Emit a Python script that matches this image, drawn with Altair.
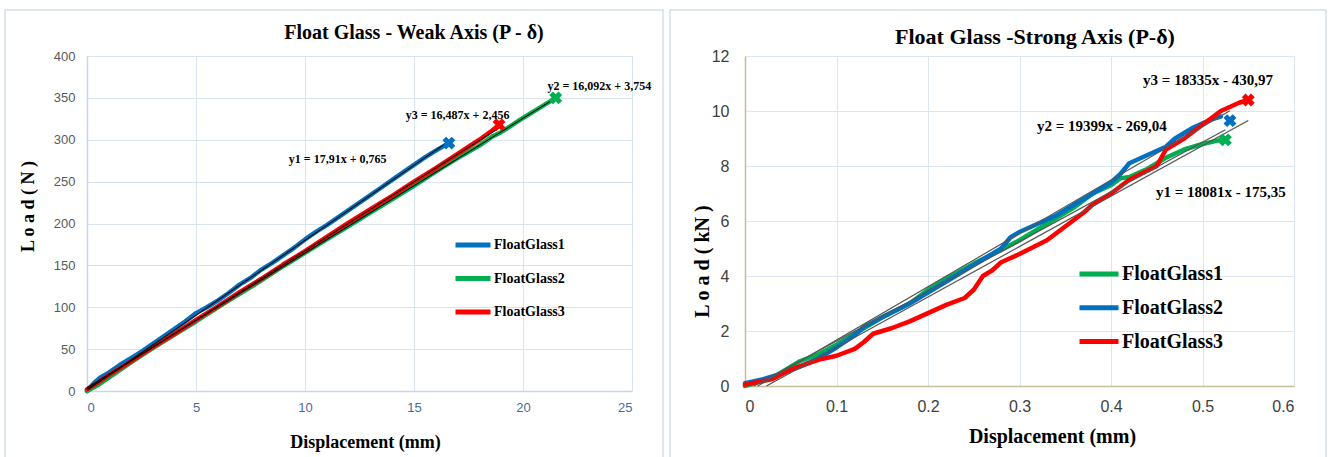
import altair as alt
import pandas as pd

# ---------------- Weak axis (left) ----------------
weak_series = ["FloatGlass1", "FloatGlass2", "FloatGlass3"]
weak_colors = ["#0070C0", "#00B050", "#FF0000"]

w1_x = [0, 0.3, 0.6, 1, 1.5, 2, 2.5, 3, 3.5, 4, 4.5, 5, 5.5, 6, 6.5, 7, 7.5, 8, 8.5, 9, 9.5, 10, 10.5, 11, 11.5, 12, 12.5, 13, 13.5, 14, 14.5, 15, 15.5, 16, 16.6]
w1_y = [0, 9, 16, 22, 31, 39, 47, 56, 65, 74, 83, 93, 100, 108, 117, 127, 135, 145, 153, 162, 171, 181, 190, 198, 207, 216, 225, 234, 243, 252, 261, 270, 279, 287, 296]
w2_x = [0, 0.5, 1, 2, 3, 4, 5, 6, 7, 8, 9, 10, 11, 12, 13, 14, 15, 16, 17, 18, 18.6, 19, 20, 21, 21.5]
w2_y = [0, 7, 16, 34, 51, 67, 83, 100, 116, 132, 149, 165, 181, 197, 213, 229, 245, 262, 278, 293, 304, 309, 326, 342, 350]
w3_x = [0, 0.5, 1, 2, 3, 4, 5, 6, 7, 8, 9, 10, 11, 12, 13, 14, 15, 16, 17, 18, 18.9]
w3_y = [2, 10, 19, 35, 52, 68, 85, 101, 118, 134, 151, 167, 184, 201, 217, 233, 250, 266, 283, 300, 317]
weak_end_x = [16.6, 21.5, 18.9]
weak_end_y = [296, 350, 318]
weak_slope = [17.91, 16.092, 16.487]
weak_icpt = [0.765, 3.754, 2.456]
weak_eq_text = ["y1 = 17,91x + 0,765", "y2 = 16,092x + 3,754", "y3 = 16,487x + 2,456"]
weak_eq_x = [11.5, 23.5, 17.0]
weak_eq_y = [277, 364, 330]

# ---------------- Strong axis (right) ----------------
strong_series = ["FloatGlass1", "FloatGlass2", "FloatGlass3"]
strong_colors = ["#00B050", "#0070C0", "#FF0000"]

s1_x = [0, 0.03, 0.05, 0.06, 0.08, 0.1, 0.13, 0.15, 0.18, 0.2, 0.22, 0.25, 0.28, 0.3, 0.33, 0.36, 0.38, 0.4, 0.41, 0.42, 0.44, 0.46, 0.48, 0.5, 0.52]
s1_y = [0, 0.3, 0.7, 0.9, 1.15, 1.5, 2.1, 2.5, 3.0, 3.5, 3.9, 4.45, 4.95, 5.3, 5.9, 6.5, 7.0, 7.3, 7.55, 7.6, 7.9, 8.3, 8.6, 8.8, 8.95]
s2_x = [0, 0.02, 0.04, 0.06, 0.08, 0.1, 0.12, 0.13, 0.15, 0.18, 0.2, 0.22, 0.25, 0.28, 0.29, 0.3, 0.32, 0.34, 0.36, 0.38, 0.4, 0.41, 0.42, 0.44, 0.46, 0.47, 0.49, 0.51, 0.52]
s2_y = [0.1, 0.25, 0.45, 0.7, 1.0, 1.4, 1.85, 2.15, 2.5, 3.0, 3.4, 3.8, 4.4, 5.0, 5.4, 5.6, 5.9, 6.2, 6.6, 7.0, 7.4, 7.7, 8.1, 8.4, 8.7, 9.0, 9.4, 9.7, 9.8]
s3_x = [0, 0.03, 0.05, 0.08, 0.1, 0.12, 0.13, 0.14, 0.16, 0.18, 0.2, 0.22, 0.24, 0.25, 0.26, 0.27, 0.28, 0.3, 0.33, 0.35, 0.37, 0.38, 0.4, 0.42, 0.45, 0.46, 0.48, 0.5, 0.52, 0.54, 0.55]
s3_y = [0.05, 0.25, 0.6, 0.95, 1.1, 1.35, 1.6, 1.9, 2.1, 2.35, 2.65, 2.95, 3.2, 3.5, 4.0, 4.2, 4.5, 4.8, 5.3, 5.8, 6.3, 6.6, 7.0, 7.5, 8.0, 8.6, 9.0, 9.5, 10.0, 10.3, 10.4]
strong_end_x = [0.525, 0.53, 0.55]
strong_end_y = [8.95, 9.65, 10.4]
strong_slope = [18.081, 19.399, 18.335]
strong_icpt = [-0.17535, -0.26904, -0.43097]
strong_trend_start = [0.0097, 0.0139, 0.0235]
strong_eq_text = ["y1 = 18081x - 175,35", "y2 = 19399x - 269,04", "y3 = 18335x - 430,97"]
strong_eq_x = [0.52, 0.39, 0.506]
strong_eq_y = [7.05, 9.45, 11.12]

SERIF = "Liberation Serif"
SANS = "Liberation Sans"


def curves(names, xs_list, ys_list):
    rows = []
    for n, xs, ys in zip(names, xs_list, ys_list):
        for x, y in zip(xs, ys):
            rows.append({"series": n, "x": x, "y": y})
    return pd.DataFrame(rows)


def trends(names, x0s, x1s, slopes, icpts):
    rows = []
    for n, a, b, m, c in zip(names, x0s, x1s, slopes, icpts):
        rows.append({"series": n, "x": a, "y": m * a + c})
        rows.append({"series": n, "x": b, "y": m * b + c})
    return pd.DataFrame(rows)


def panel(df, tr, ends, eqs, names, colors, xdom, ydom, xvals, yvals, xfmt,
          w, h, cfg):
    xs = alt.Scale(domain=xdom, nice=False, zero=False)
    ys = alt.Scale(domain=ydom, nice=False, zero=False)
    xaxis = alt.Axis(values=xvals, format=xfmt, grid=True, gridColor=cfg["grid"],
                     domainColor=cfg["domain"], domainWidth=1.5, ticks=False,
                     labelColor=cfg["xlab"], labelFont=SANS, labelFontSize=cfg["tick"],
                     labelPadding=cfg["xpad"], title="Displacement (mm)", titleFont=SERIF,
                     titleFontSize=cfg["axt"], titleFontWeight="bold", titleColor="black",
                     titleX=cfg["xtx"], titleY=cfg["xty"], titleBaseline="middle",
                     titleAlign="center")
    yaxis = alt.Axis(values=yvals, grid=True, gridColor=cfg["grid"],
                     domainColor=cfg["domain"], domainWidth=1.5, ticks=False,
                     labelColor=cfg["ylab"], labelFont=SANS, labelFontSize=cfg["tick"],
                     labelPadding=cfg["ypad"], title=cfg["ytitle"], titleFont=SERIF,
                     titleFontSize=cfg["axt"], titleFontWeight="bold", titleColor="black",
                     titleX=cfg["ytx"], titleY=cfg["yty"], titleAngle=270,
                     titleBaseline="middle", titleAlign="center")
    cscale = alt.Scale(domain=names, range=colors)
    legend = alt.Legend(orient="none", legendX=cfg["lx"], legendY=cfg["ly"], title=None,
                        symbolType="stroke", symbolSize=cfg["ssize"], symbolStrokeWidth=5,
                        labelFont=SERIF, labelFontWeight="bold", labelFontSize=cfg["lfs"],
                        labelColor="black", labelOffset=1, rowPadding=cfg["rowpad"],
                        labelLimit=300)
    frame = alt.Chart(pd.DataFrame({"a": [0]})).mark_rect(
        fill=None, stroke="#D6DEE9", strokeWidth=1.5).encode(
        x=alt.value(cfg["fx"]), x2=alt.value(cfg["fx2"]),
        y=alt.value(cfg["fy"]), y2=alt.value(cfg["fy2"]))
    title = alt.Chart(pd.DataFrame({"t": [cfg["title"]]})).mark_text(
        font=SERIF, fontSize=cfg["tfs"], fontWeight="bold", color="black",
        align="center", baseline="middle").encode(
        text="t:N", x=alt.value(cfg["ttx"]), y=alt.value(cfg["tty"]))
    lines = alt.Chart(df).mark_line(strokeWidth=4.5, strokeJoin="round", strokeCap="round").encode(
        x=alt.X("x:Q", scale=xs, axis=xaxis),
        y=alt.Y("y:Q", scale=ys, axis=yaxis),
        color=alt.Color("series:N", scale=cscale, legend=legend),
        order="x:Q",
    )
    tl = alt.Chart(tr).mark_line(strokeWidth=1.2, color=cfg["trend"]).encode(
        x="x:Q", y="y:Q", detail="series:N")
    pts = alt.Chart(ends).mark_point(shape="cross", angle=45, filled=True, size=170,
                                     opacity=1).encode(
        x="x:Q", y="y:Q",
        fill=alt.Fill("series:N", scale=alt.Scale(domain=names, range=colors), legend=None))
    txt = alt.Chart(eqs).mark_text(font=SERIF, fontWeight="bold", fontSize=cfg["eqfs"],
                                   color="black").encode(
        x="x:Q", y="y:Q", text="t:N")
    return alt.layer(frame, title, lines, tl, pts, txt).properties(
        width=w, height=h
    ).resolve_scale(color="independent", fill="independent")


wdf = curves(weak_series, [w1_x, w2_x, w3_x], [w1_y, w2_y, w3_y])
wtr = trends(weak_series, [0, 0, 0], weak_end_x, weak_slope, weak_icpt)
wends = pd.DataFrame({"series": weak_series, "x": weak_end_x, "y": weak_end_y})
weqs = pd.DataFrame({"t": weak_eq_text, "x": weak_eq_x, "y": weak_eq_y})

sdf = curves(strong_series, [s1_x, s2_x, s3_x], [s1_y, s2_y, s3_y])
str_ = trends(strong_series, strong_trend_start, strong_end_x, strong_slope, strong_icpt)
sends = pd.DataFrame({"series": strong_series, "x": strong_end_x, "y": strong_end_y})
seqs = pd.DataFrame({"t": strong_eq_text, "x": strong_eq_x, "y": strong_eq_y})

left_cfg = dict(grid="#D9E4F2", domain="#C6D6EC", xlab="#4A69A8", ylab="#595959", tick=13,
                xpad=10, ypad=12, axt=18, xtx=278, xty=51, ytitle="L o a d ( N )",
                ytx=-59, yty=150, lx=366, ly=169, ssize=1225, lfs=14, rowpad=3.5,
                fx=-82, fx2=576, fy=-46, fy2=410, trend="#111111", eqfs=12,
                title="Float Glass - Weak Axis (P - δ)", tfs=20, ttx=327, tty=-23)
right_cfg = dict(grid="#DCE6F2", domain="#C4BD97", xlab="#404040", ylab="#404040", tick=16,
                 xpad=12, ypad=16, axt=20, xtx=307, xty=50, ytitle="L o a d  ( kN )",
                 ytx=-43, yty=205, lx=332, ly=196, ssize=1521, lfs=20, rowpad=1.8,
                 fx=-75, fx2=581, fy=-46, fy2=410, trend="#555555", eqfs=15,
                 title="Float Glass -Strong Axis (P-δ)", tfs=22, ttx=290, tty=-19)

left = panel(wdf, wtr, wends, weqs, weak_series, weak_colors, [0, 25], [0, 400],
             [0, 5, 10, 15, 20, 25], list(range(0, 401, 50)), "d", 545, 335, left_cfg)
right = panel(sdf, str_, sends, seqs, strong_series, strong_colors, [0, 0.6], [0, 12],
              [0, 0.1, 0.2, 0.3, 0.4, 0.5, 0.6], list(range(0, 13, 2)), ".1~f", 549, 330,
              right_cfg)

chart = alt.hconcat(left, right, spacing=113, bounds="flush").resolve_scale(
    color="independent", fill="independent", x="independent", y="independent"
).resolve_legend(color="independent", fill="independent").properties(
    padding={"left": 3, "top": 8, "right": 0, "bottom": 0}
).configure_view(stroke=None).configure(background="white")

chart.save("out.html", embed_options={"renderer": "svg", "actions": False})
